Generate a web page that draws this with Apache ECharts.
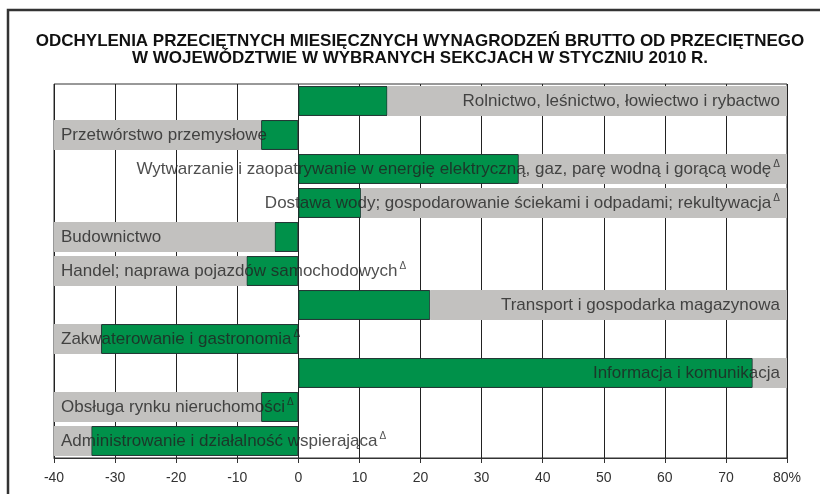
<!DOCTYPE html>
<html>
<head>
<meta charset="utf-8">
<script src="https://cdn.jsdelivr.net/npm/echarts@6/dist/echarts.min.js"></script>
<style>
  html, body { margin: 0; padding: 0; background: #fff; }
  #chart { width: 820px; height: 494px; }
</style>
</head>
<body>
<div id="chart"></div>
<script>
// sekcje (od góry)
const categories = [
  'Rolnictwo, leśnictwo, łowiectwo i rybactwo',
  'Przetwórstwo przemysłowe',
  'Wytwarzanie i zaopatrywanie w energię elektryczną, gaz, parę wodną i gorącą wodę',
  'Dostawa wody; gospodarowanie ściekami i odpadami; rekultywacja',
  'Budownictwo',
  'Handel; naprawa pojazdów samochodowych',
  'Transport i gospodarka magazynowa',
  'Zakwaterowanie i gastronomia',
  'Informacja i komunikacja',
  'Obsługa rynku nieruchomości',
  'Administrowanie i działalność wspierająca'
]
// odchylenie od przeciętnego w województwie (%)
const values = [14.6, -6.1, 36.1, 10.3, -3.9, -8.5, 21.6, -32.3, 74.4, -6.1, -33.9]
// znak Δ przy nazwie sekcji
const deltaMark = [false, false, true, true, false, true, false, true, false, true, true]

const axisMin = -40
const axisMax = 80

const chart = echarts.init(document.getElementById('chart'))

// szare tło do końca osi po stronie etykiety
const restValues = values.map(v => (v >= 0 ? axisMax - v : axisMin - v))
const labelPoints = values.map((v, i) => ({
  value: [v >= 0 ? axisMax : axisMin, i],
  label: {position: v >= 0 ? 'left' : 'right'}
}))

chart.setOption({
  animation: false,
  graphic: [
    {
      type: 'rect',
      shape: {x: 8, y: 10, width: 840, height: 520},
      style: {fill: 'none', stroke: '#333', lineWidth: 2.5},
      z: 100
    },
    {
      type: 'text',
      x: 420,
      y: 33,
      style: {
        text: 'ODCHYLENIA PRZECIĘTNYCH MIESIĘCZNYCH WYNAGRODZEŃ BRUTTO OD PRZECIĘTNEGO\nW WOJEWÓDZTWIE W WYBRANYCH SEKCJACH W STYCZNIU 2010 R.',
        align: 'center',
        verticalAlign: 'top',
        fontFamily: 'Liberation Sans, Arial, sans-serif',
        fontWeight: 'bold',
        fontSize: 17,
        lineHeight: 17,
        fill: '#111'
      }
    }
  ],
  grid: {
    left: 54, right: 33, top: 84, bottom: 36,
    show: true, borderColor: '#333', borderWidth: 1, backgroundColor: '#fff'
  },
  xAxis: {
    type: 'value',
    min: axisMin,
    max: axisMax,
    interval: 10,
    axisLine: {show: true, lineStyle: {color: '#333'}},
    axisTick: {show: true, length: 5, lineStyle: {color: '#333'}},
    splitLine: {show: true, lineStyle: {color: '#222', width: 1}},
    axisLabel: {
      margin: 13,
      fontFamily: 'Liberation Sans, Arial, sans-serif',
      fontSize: 14,
      color: '#333',
      formatter: v => (v === axisMax ? v + '%' : String(v))
    }
  },
  yAxis: {
    type: 'category',
    data: categories,
    inverse: true,
    axisLine: {show: false},
    axisTick: {show: false},
    axisLabel: {show: false},
    splitLine: {show: false}
  },
  series: [
    {
      type: 'bar',
      stack: 'a',
      data: values,
      barCategoryGap: '12%',
      itemStyle: {color: '#00914a', borderColor: '#233', borderWidth: 1}
    },
    {
      type: 'bar',
      stack: 'a',
      data: restValues,
      itemStyle: {color: '#c2c1bf'}
    },
    {
      type: 'scatter',
      data: labelPoints,
      symbolSize: 0,
      z: 5,
      silent: true,
      label: {
        show: true,
        distance: 7,
        formatter: p => '{t|' + categories[p.dataIndex] + '}' + (deltaMark[p.dataIndex] ? '{s|Δ}' : ''),
        rich: {
          t: {fontFamily: 'Liberation Sans, Arial, sans-serif', fontSize: 17, color: '#222', lineHeight: 20},
          s: {fontFamily: 'Liberation Sans, Arial, sans-serif', fontSize: 10, color: '#222', verticalAlign: 'top', lineHeight: 12, padding: [0, 0, 0, 2]}
        }
      }
    }
  ]
})
</script>
</body>
</html>
